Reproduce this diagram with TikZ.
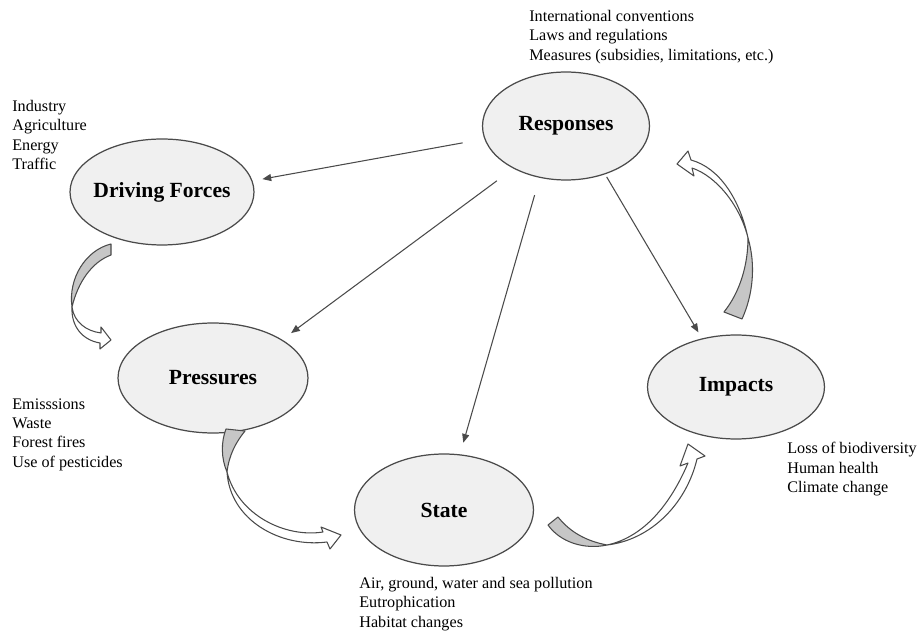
\documentclass[tikz,border=0pt]{standalone}
\usepackage{fontspec}
\setmainfont{Liberation Serif}
\usepackage{tikz}
\usetikzlibrary{arrows.meta, shapes.geometric}
\definecolor{dline}{HTML}{4A4A4A}
\definecolor{dfill}{HTML}{F0F0F0}
\definecolor{dtail}{HTML}{C6C6C6}
\tikzset{
  stage/.style={ellipse, draw=dline, fill=dfill, line width=0.7pt,
                inner xsep=-3pt, inner ysep=0pt,
                font=\fontsize{12.3}{14}\selectfont\bfseries},
  note/.style={anchor=north west, inner sep=0pt, align=left,
               font=\fontsize{9.2}{11}\selectfont},
  arr/.style={-{Triangle[length=5pt,width=4pt]}, line width=0.6pt, dline},
  tailband/.style={draw=dline, fill=dtail, line width=0.6pt, line join=round},
  headband/.style={draw=dline, fill=white, line width=0.6pt, line join=round},
}

\begin{document}
\begin{tikzpicture}[x=0.02cm, y=-0.02cm]
  \useasboundingbox (0,0) rectangle (920,631);
  % the five stages
  \node[stage, minimum width=3.34cm, minimum height=2.16cm] (rsp) at (566,126) {Responses};
  \node[stage, minimum width=3.68cm, minimum height=2.12cm] (drv) at (162,192) {Driving Forces};
  \node[stage, minimum width=3.80cm, minimum height=2.20cm] (prs) at (213,378) {Pressures};
  \node[stage, minimum width=3.58cm, minimum height=2.24cm] (sta) at (444,510) {State};
  \node[stage, minimum width=3.54cm, minimum height=2.08cm] (imp) at (736,387) {Impacts};
  % lists
  \node[note] (rsplist) at (529,10) {International conventions\\Laws and regulations\\Measures (subsidies, limitations, etc.)};
  \node[note] (drvlist) at (12,100) {Industry\\Agriculture\\Energy\\Traffic};
  \node[note] (prslist) at (12,398) {Emisssions\\Waste\\Forest fires\\Use of pesticides};
  \node[note] (stalist) at (359,577) {Air, ground, water and sea pollution\\Eutrophication\\Habitat changes};
  \node[note] (implist) at (787,442) {Loss of biodiversity\\Human health\\Climate change};
  % responses act on every stage
  \draw[arr, shorten <=0.44cm, shorten >=0.20cm] (rsp.189) -- (drv.7);
  \draw[arr, shorten <=0.41cm, shorten >=0.22cm] (rsp.219) -- (prs.29);
  \draw[arr, shorten <=0.36cm, shorten >=0.24cm] (rsp.243) -- (sta.74);
  \draw[arr, shorten <=0.06cm, shorten >=0.14cm] (rsp.309) -- (imp.125);
  % curved block arrows of the cycle
  \draw[tailband] (111,255) -- (111,244) .. controls (86,250) and (68,278) .. (72,307)
    .. controls (78,282) and (92,262) .. (111,255) -- cycle;
  \draw[headband] (72,307) .. controls (74,322) and (86,331) .. (101,333) -- (101,327) -- (111,340)
    -- (100,349) -- (100,343) .. controls (82,340) and (71,326) .. (72,307) -- cycle;
  \draw[tailband] (226,429) -- (245,431) .. controls (236,442) and (229,455) .. (227,472)
    .. controls (221,458) and (221,442) .. (226,429) -- cycle;
  \draw[headband] (227,472) .. controls (238,515) and (285,538) .. (323,532) -- (321,527) -- (341,535)
    -- (330,549) -- (327,542) .. controls (280,548) and (230,520) .. (227,472) -- cycle;
  \draw[tailband] (548,525) -- (558,517) .. controls (570,532) and (586,541) .. (607,545)
    .. controls (584,550) and (560,542) .. (548,525) -- cycle;
  \draw[headband] (607,545) .. controls (640,538) and (668,510) .. (688,463) -- (680,466) -- (688,444)
    -- (705,456) -- (697,459) .. controls (686,505) and (650,540) .. (607,545) -- cycle;
  \draw[tailband] (724,312) -- (742,319) .. controls (753,295) and (756,265) .. (748,238)
    .. controls (748,265) and (740,292) .. (724,312) -- cycle;
  \draw[headband] (748,238) .. controls (740,200) and (720,168) .. (691,160) -- (688,151) -- (677,164)
    -- (694,176) -- (692,168) .. controls (716,176) and (740,205) .. (748,238) -- cycle;
\end{tikzpicture}
\end{document}
